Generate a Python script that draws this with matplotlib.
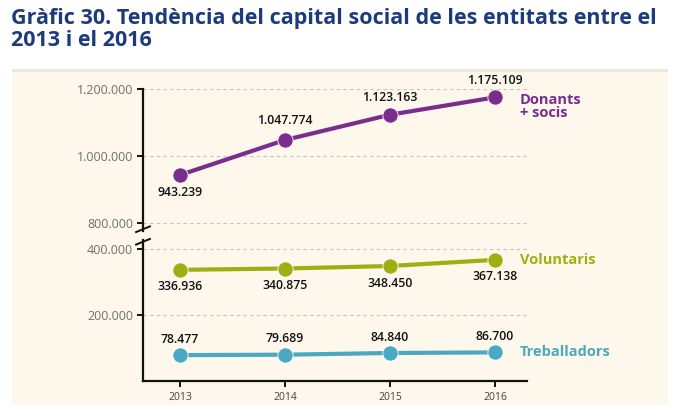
import matplotlib
matplotlib.use("Agg")
import matplotlib.pyplot as plt
from matplotlib.patches import Rectangle

plt.rcParams['font.family'] = ['Open Sans', 'DejaVu Sans']

years = [2013, 2014, 2015, 2016]
donants = [943239, 1047774, 1123163, 1175109]
voluntaris = [336936, 340875, 348450, 367138]
treballadors = [78477, 79689, 84840, 86700]
donants_labels = ["943.239", "1.047.774", "1.123.163", "1.175.109"]
voluntaris_labels = ["336.936", "340.875", "348.450", "367.138"]
treballadors_labels = ["78.477", "79.689", "84.840", "86.700"]
top_ticks = [800000, 1000000, 1200000]
top_ticklabels = ["800.000", "1.000.000", "1.200.000"]
bot_ticks = [200000, 400000]
bot_ticklabels = ["200.000", "400.000"]

title = "Gràfic 30. Tendència del capital social de les entitats entre el\n2013 i el 2016"

PURPLE = "#7B2D8E"
GREEN = "#9CB012"
TEAL = "#4AA8C3"
TITLE_C = "#1C3B7C"
CREAM = "#FDF7EC"

W, H = 680, 420
fig = plt.figure(figsize=(W / 100, H / 100), dpi=100)
fig.patch.set_facecolor("white")

def fx(px):
    return px / W

def fy(py):
    return 1 - py / H

# cream box (drawn beneath the axes)
fig.patches.append(Rectangle((fx(12), fy(405)), fx(668) - fx(12), fy(69) - fy(405),
                             transform=fig.transFigure, facecolor=CREAM, edgecolor="none", zorder=-2))
fig.patches.append(Rectangle((fx(12), fy(71.5)), fx(668) - fx(12), 2.5 / H,
                             transform=fig.transFigure, facecolor="#EEE7DA", edgecolor="none", zorder=-1))

fig.text(fx(11), fy(8), title, ha="left", va="top", fontsize=15.5, fontweight="bold",
         color=TITLE_C, linespacing=1.06)

left, right = 143, 527
ax_top = fig.add_axes([fx(left), fy(231), fx(right) - fx(left), fy(89) - fy(231)])
ax_bot = fig.add_axes([fx(left), fy(381), fx(right) - fx(left), fy(240) - fy(381)])

xlim = (2012.648, 2016.305)
top_px_per = 67 / 200000
ax_top.set_ylim(800000 - (231 - 223) / top_px_per, 1200000)
bot_px_per = 66 / 200000
ax_bot.set_ylim(0, (381 - 240) / bot_px_per)

for ax in (ax_top, ax_bot):
    ax.set_xlim(*xlim)
    ax.set_facecolor("none")
    for s in ("top", "right"):
        ax.spines[s].set_visible(False)
    ax.spines["left"].set_linewidth(1.6)
    ax.spines["left"].set_color("#111111")
    ax.tick_params(axis="y", direction="out", length=4, width=1.4, color="#111111",
                   labelsize=9, labelcolor="#707070", pad=3)
    ax.yaxis.grid(True, linestyle=(0, (3, 3)), color="#c2c2c2", linewidth=0.8)
    ax.set_axisbelow(True)

ax_top.spines["bottom"].set_visible(False)
ax_top.tick_params(axis="x", bottom=False, labelbottom=False)
ax_top.set_yticks(top_ticks)
ax_top.set_yticklabels(top_ticklabels)

ax_bot.spines["bottom"].set_linewidth(1.6)
ax_bot.spines["bottom"].set_color("#111111")
ax_bot.set_yticks(bot_ticks)
ax_bot.set_yticklabels(bot_ticklabels)
ax_bot.set_xticks(years)
ax_bot.set_xticklabels([str(y) for y in years])
ax_bot.tick_params(axis="x", direction="out", length=4, width=1.4, color="#111111",
                   labelsize=7.5, labelcolor="#444444", pad=4)

# break marks
d_x, d_y = 0.018, 0.025
ax_top.plot([-d_x, d_x], [-d_y * 0.3, d_y * 1.3], transform=ax_top.transAxes,
            color="#111111", lw=1.4, clip_on=False)
ax_bot.plot([-d_x, d_x], [1 - d_y * 1.3, 1 + d_y * 0.3], transform=ax_bot.transAxes,
            color="#111111", lw=1.4, clip_on=False)

def draw(ax, vals, labels, color, offsets):
    ax.plot(years, vals, color=color, lw=3.0, solid_capstyle="round", zorder=3)
    ax.plot(years, vals, "o", color=color, markersize=11, markeredgecolor="white",
            markeredgewidth=0.6, zorder=4)
    for x, v, lab, off in zip(years, vals, labels, offsets):
        ax.annotate(lab, (x, v), xytext=(0, off), textcoords="offset pixels",
                    ha="center", va="center", fontsize=8.8, fontweight="semibold",
                    color="#111111", zorder=5, annotation_clip=False)

draw(ax_top, donants, donants_labels, PURPLE, [-17, 19, 17, 17])
draw(ax_bot, voluntaris, voluntaris_labels, GREEN, [-17, -17, -17, -17])
draw(ax_bot, treballadors, treballadors_labels, TEAL, [16, 16, 16, 16])

ax_top.annotate("Donants\n+ socis", (years[-1], donants[-1]), xytext=(25, -9),
                textcoords="offset pixels", ha="left", va="center", fontsize=10.5,
                fontweight="bold", color=PURPLE, linespacing=0.92, annotation_clip=False)
ax_bot.annotate("Voluntaris", (years[-1], voluntaris[-1]), xytext=(25, 0),
                textcoords="offset pixels", ha="left", va="center", fontsize=10.5,
                fontweight="bold", color=GREEN, annotation_clip=False)
ax_bot.annotate("Treballadors", (years[-1], treballadors[-1]), xytext=(25, 0),
                textcoords="offset pixels", ha="left", va="center", fontsize=10.5,
                fontweight="bold", color=TEAL, annotation_clip=False)

fig.savefig("out.png", dpi=100, facecolor=fig.get_facecolor())
